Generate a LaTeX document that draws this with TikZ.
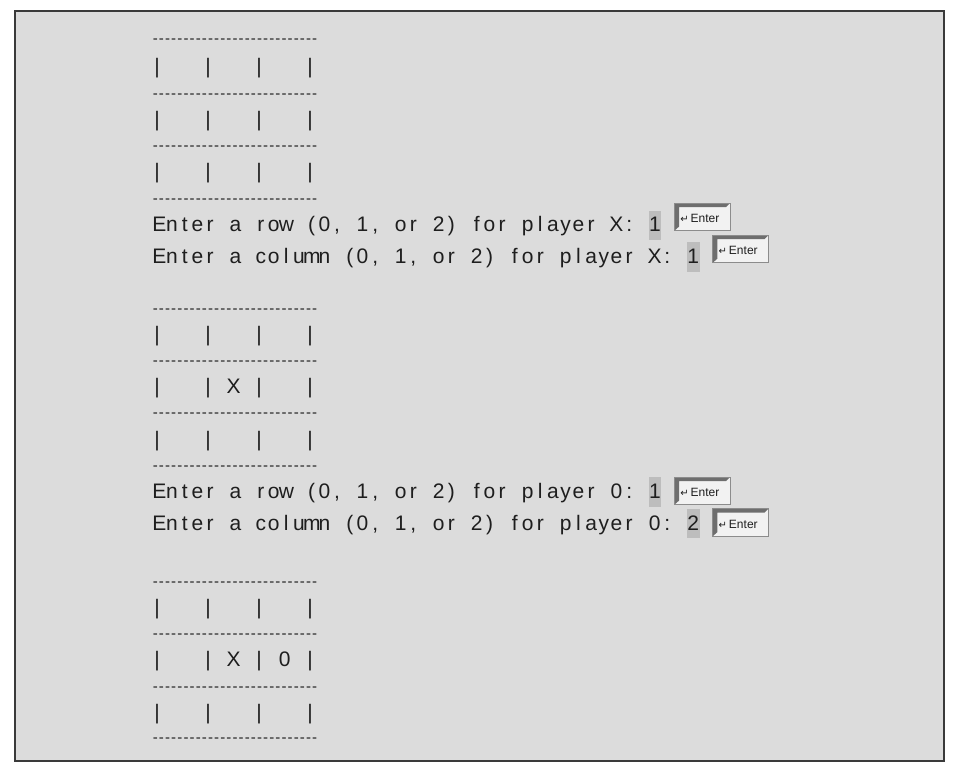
\documentclass[tikz,border=0pt]{standalone}
\usepackage{fontspec}
\setmainfont{Liberation Sans}
\newfontfamily\arrowfont{DejaVu Sans}
\usetikzlibrary{calc}
\definecolor{panel}{HTML}{DCDCDC}
\definecolor{hilite}{HTML}{BDBDBD}
\definecolor{ink}{HTML}{1E1E1E}
\definecolor{keyface}{HTML}{F2F2F2}
\definecolor{keydark}{HTML}{6E6E6E}
\definecolor{keyedge}{HTML}{8C8C8C}
\definecolor{framecol}{HTML}{3A3A3A}
\newlength\cellw
\def\mono#1#2{\setlength\cellw{#1}\monoA#2 \monoend}
\def\monoA#1 #2\monoend{\monoB#1\relax\ifx\relax#2\relax\else\makebox[\cellw]{}\monoA#2\monoend\fi}
\def\monoB#1{\ifx\relax#1\else\makebox[\cellw]{#1}\expandafter\monoB\fi}
\newcommand\dashes{\mono{6.13pt}{---------------------------}}
\newcommand\cells[1]{\mono{12.75pt}{#1}}
\newcommand\keylabel{\makebox[55.5pt][l]{\hspace{5.8pt}{\arrowfont\fontsize{10}{12}\selectfont ↵}\hspace{2pt}Enter}}
\tikzset{
  txt/.style={inner sep=0pt, text=ink, font=\fontsize{21}{25}\selectfont},
  dashrow/.style={inner sep=0pt, text=ink, font=\fontsize{15}{18}\selectfont},
  inbox/.style={txt, fill=hilite, minimum width=12.7pt, text height=21pt, text depth=8.4pt},
  enterkey/.style={inner sep=0pt, fill=keyface, draw=keyedge, line width=0.8pt, text=ink,
    text height=19.3pt, text depth=8.2pt, font=\fontsize{12}{14}\selectfont,
    path picture={\fill[keydark] (path picture bounding box.north west)
      -- (path picture bounding box.north east)
      -- ([xshift=-4pt,yshift=-4pt]path picture bounding box.north east)
      -- ([xshift=4.5pt,yshift=-4pt]path picture bounding box.north west)
      -- ([xshift=4.5pt,yshift=4pt]path picture bounding box.south west)
      -- (path picture bounding box.south west) -- cycle;}},
  panelbox/.style={draw=framecol, line width=1.6pt, fill=panel}
}
\begin{document}
\begin{tikzpicture}[x=1pt,y=-1pt]
\fill[white] (0,0) rectangle (955,777);
\useasboundingbox (0,0) rectangle (955,777);
\draw[panelbox] (15,11) rectangle (944,761);
% board 1
\node[dashrow, anchor=base west] (a0) at (152.1,43.1) {\dashes};
\node[txt, anchor=base west] (a1) at (150.6,73.5) {\cells{|~~~|~~~|~~~|}};
\node[dashrow, anchor=base west] (a2) at (152.1,98.1) {\dashes};
\node[txt, anchor=base west] (a3) at (150.6,126.5) {\cells{|~~~|~~~|~~~|}};
\node[dashrow, anchor=base west] (a4) at (152.1,150.1) {\dashes};
\node[txt, anchor=base west] (a5) at (150.6,178.5) {\cells{|~~~|~~~|~~~|}};
\node[dashrow, anchor=base west] (a6) at (152.1,203.1) {\dashes};
% prompts 1
\node[txt, anchor=base west] (l1) at (152.8,231.7) {\mono{12.7pt}{Enter a row (0, 1, or 2) for player X:}};
\node[inbox, anchor=base west] (in1) at ([xshift=12.7pt]l1.base east) {1};
\node[enterkey, anchor=north west] (k1) at ([xshift=12.5pt,yshift=29pt]in1.base east) {\keylabel};
\node[txt, anchor=base west] (l2) at (152.8,263.3) {\mono{12.7pt}{Enter a column (0, 1, or 2) for player X:}};
\node[inbox, anchor=base west] (in2) at ([xshift=12.7pt]l2.base east) {1};
\node[enterkey, anchor=north west] (k2) at ([xshift=12.7pt,yshift=28.5pt]in2.base east) {\keylabel};
% board 2
\node[dashrow, anchor=base west] (b0) at (152.1,313.1) {\dashes};
\node[txt, anchor=base west] (b1) at (150.6,341) {\cells{|~~~|~~~|~~~|}};
\node[dashrow, anchor=base west] (b2) at (152.1,365.8) {\dashes};
\node[txt, anchor=base west] (b3) at (150.6,393.5) {\cells{|~~~|~X~|~~~|}};
\node[dashrow, anchor=base west] (b4) at (152.1,417.8) {\dashes};
\node[txt, anchor=base west] (b5) at (150.6,446) {\cells{|~~~|~~~|~~~|}};
\node[dashrow, anchor=base west] (b6) at (152.1,470.8) {\dashes};
% prompts 2
\node[txt, anchor=base west] (l3) at (152.8,498.3) {\mono{12.7pt}{Enter a row (0, 1, or 2) for player 0:}};
\node[inbox, anchor=base west] (in3) at ([xshift=12.7pt]l3.base east) {1};
\node[enterkey, anchor=north west] (k3) at ([xshift=12.5pt,yshift=21.6pt]in3.base east) {\keylabel};
\node[txt, anchor=base west] (l4) at (152.8,530) {\mono{12.7pt}{Enter a column (0, 1, or 2) for player 0:}};
\node[inbox, anchor=base west] (in4) at ([xshift=12.7pt]l4.base east) {2};
\node[enterkey, anchor=north west] (k4) at ([xshift=12.7pt,yshift=21.7pt]in4.base east) {\keylabel};
% board 3
\node[dashrow, anchor=base west] (c0) at (152.1,586.1) {\dashes};
\node[txt, anchor=base west] (c1) at (150.6,614.5) {\cells{|~~~|~~~|~~~|}};
\node[dashrow, anchor=base west] (c2) at (152.1,638.1) {\dashes};
\node[txt, anchor=base west] (c3) at (150.6,666.5) {\cells{|~~~|~X~|~0~|}};
\node[dashrow, anchor=base west] (c4) at (152.1,691.1) {\dashes};
\node[txt, anchor=base west] (c5) at (150.6,719.5) {\cells{|~~~|~~~|~~~|}};
\node[dashrow, anchor=base west] (c6) at (152.1,742.1) {\dashes};
\end{tikzpicture}
\end{document}
